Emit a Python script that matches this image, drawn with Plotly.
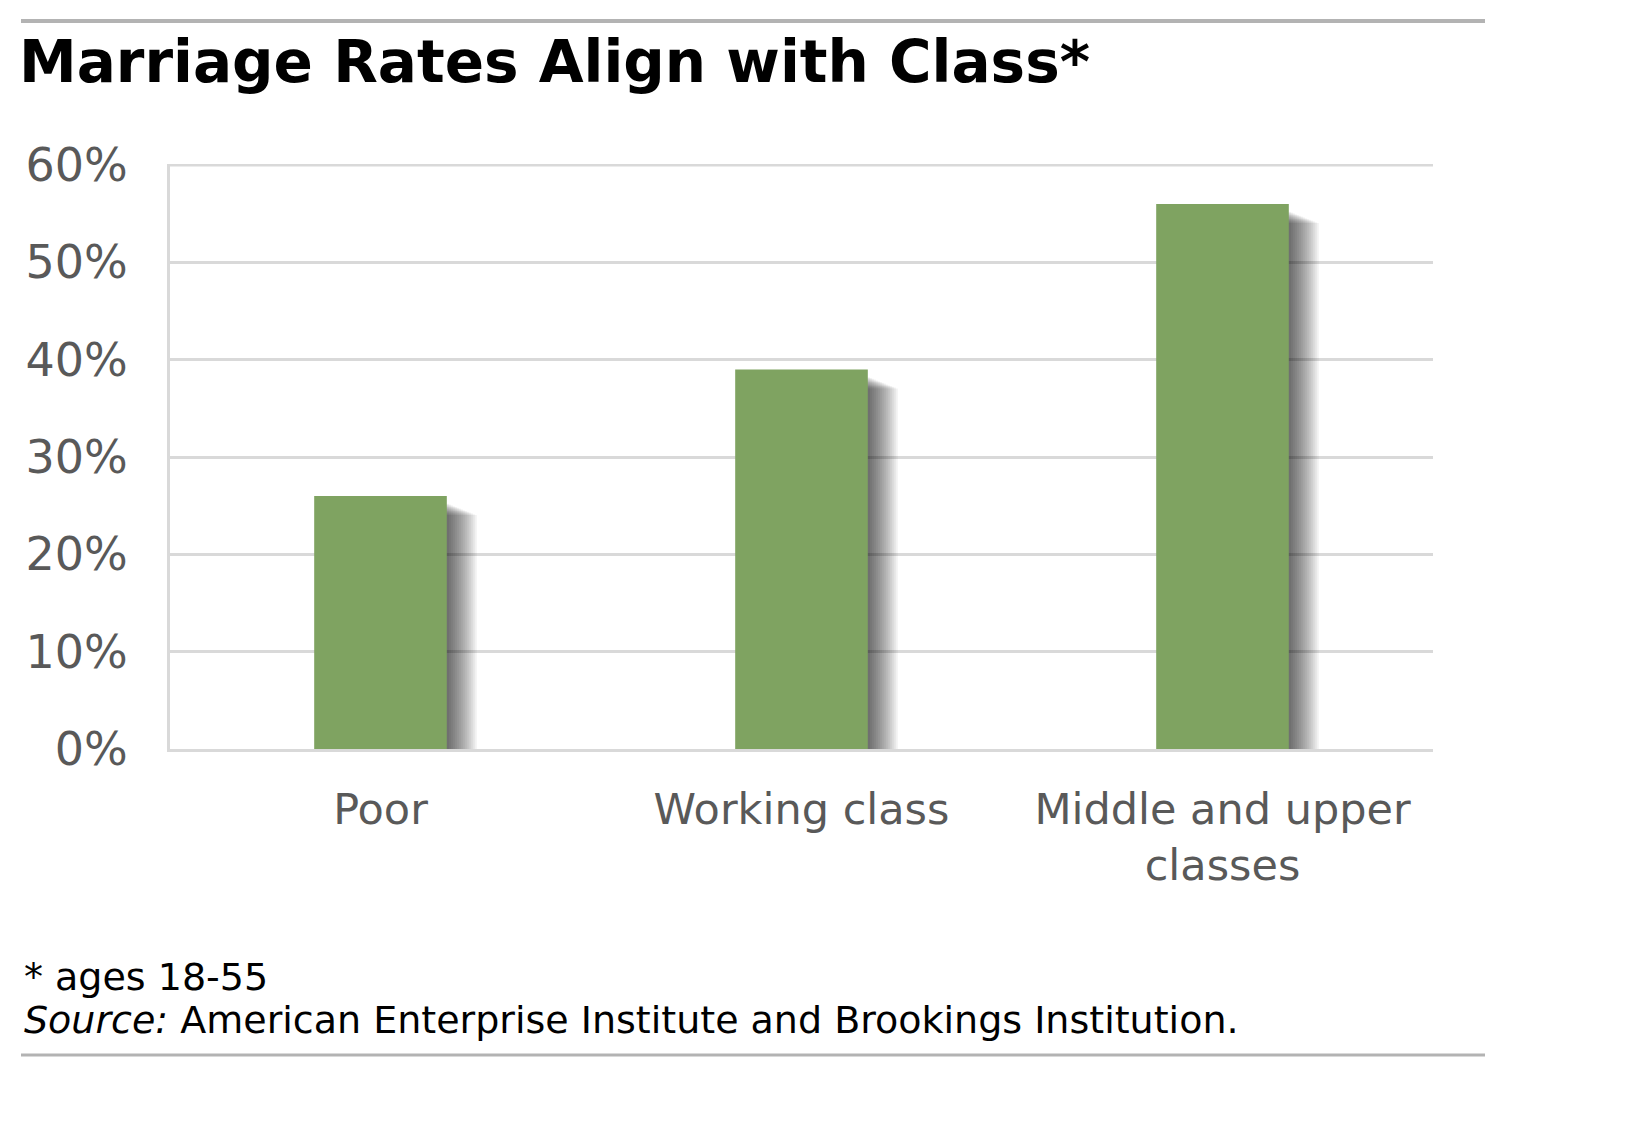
import plotly.graph_objects as go

categories = ["Poor", "Working class", "Middle and upper<br>classes"]
values = [26.0, 39.0, 56.0]
y_ticks = [0, 10, 20, 30, 40, 50, 60]
y_tick_labels = ["0%", "10%", "20%", "30%", "40%", "50%", "60%"]
title_text = "Marriage Rates Align with Class*"
note_text = "* ages 18-55"
source_text = "<i>Source:</i> American Enterprise Institute and Brookings Institution."

# page has an 8px body margin, so the figure is 16px smaller than the window
OFF = 8
W, H = 1636 - 2 * OFF, 1135 - 2 * OFF
L, T = 170 - OFF, 164 - OFF
R = W - (1433 - OFF)
B = H - (749 - OFF)
plot_w = W - L - R
plot_h = H - T - B
y_top = 60.0 * plot_h / (749 - 165)
px_per_cat = plot_w / 3.0
units_per_px = y_top / plot_h

bar_w = 0.315
bar_color = "#7FA361"
grid_color = "#D9D9D9"
font = "DejaVu Sans"

fig = go.Figure()

# drop shadow layers
for d in range(2, 32, 2):
    drop = (7 + d * 0.4) * units_per_px
    fig.add_trace(go.Bar(
        x=categories,
        y=[max(v - drop, 0) for v in values],
        width=bar_w,
        offset=-bar_w / 2 + d / px_per_cat,
        marker=dict(color="rgba(0,0,0,0.052)", line=dict(width=0)),
        hoverinfo="skip",
        showlegend=False,
    ))

fig.add_trace(go.Bar(
    x=categories,
    y=values,
    width=bar_w,
    offset=-bar_w / 2,
    marker=dict(color=bar_color, line=dict(width=0)),
    showlegend=False,
))

def px_x(p):
    return (p - OFF - L) / plot_w

def px_y(p):
    return (H - B - (p - OFF)) / plot_h

fig.update_layout(
    width=W, height=H,
    margin=dict(l=L, r=R, t=T, b=B, autoexpand=False),
    paper_bgcolor="white", plot_bgcolor="white",
    barmode="overlay",
    font=dict(family=font, color="#595959"),
    xaxis=dict(
        showgrid=False, showline=True, linecolor=grid_color, linewidth=3,
        ticks="outside", ticklen=20, tickcolor="rgba(0,0,0,0)",
        tickfont=dict(size=43, color="#595959", family=font),
        zeroline=False,
    ),
    yaxis=dict(
        range=[0, y_top], tickvals=y_ticks, ticktext=y_tick_labels,
        showgrid=True, gridcolor=grid_color, gridwidth=3,
        showline=True, linecolor=grid_color, linewidth=3,
        ticks="outside", ticklen=30, tickcolor="rgba(0,0,0,0)",
        tickfont=dict(size=46, color="#595959", family=font),
        zeroline=False,
    ),
    shapes=[
        # top gridline (plotly drops gridlines touching the plot edge)
        dict(type="line", xref="paper", yref="y",
             x0=0, x1=1, y0=y_ticks[-1], y1=y_ticks[-1],
             line=dict(color=grid_color, width=3), layer="below"),
        dict(type="line", xref="paper", yref="paper",
             x0=px_x(21), x1=px_x(1485), y0=px_y(21), y1=px_y(21),
             line=dict(color="#B3B3B3", width=4)),
        dict(type="line", xref="paper", yref="paper",
             x0=px_x(21), x1=px_x(1485), y0=px_y(1055), y1=px_y(1055),
             line=dict(color="#B3B3B3", width=3)),
    ],
    annotations=[
        dict(text="<b>" + title_text + "</b>", xref="paper", yref="paper",
             x=px_x(17), y=px_y(62), xanchor="left", yanchor="middle",
             showarrow=False, font=dict(size=58, color="black", family=font)),
        dict(text=note_text, xref="paper", yref="paper",
             x=px_x(22), y=px_y(977), xanchor="left", yanchor="middle",
             showarrow=False, font=dict(size=38, color="black", family=font)),
        dict(text=source_text, xref="paper", yref="paper",
             x=px_x(22), y=px_y(1020), xanchor="left", yanchor="middle",
             showarrow=False, font=dict(size=38, color="black", family=font)),
    ],
)

fig.write_html("out.html")
